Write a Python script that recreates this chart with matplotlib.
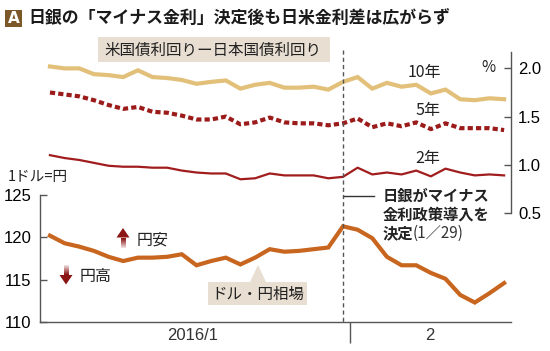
import matplotlib
matplotlib.use("Agg")
import matplotlib.pyplot as plt
from matplotlib import font_manager
from matplotlib.patches import Rectangle, Polygon
from matplotlib.lines import Line2D
import matplotlib.transforms as mtransforms

# ---------------- data ----------------
# 32 weekdays from 2016-01-01 to 2016-02-15 (index 20 = Jan 29)
day_index = list(range(32))
boj_day = 20
month_boundary = 20.5
month_labels = ["2016/1", "2"]
month_label_pos = [9.75, 25.9]

yield_10y = [2.02, 2.00, 2.00, 1.94, 1.93, 1.91, 1.98, 1.91, 1.90, 1.88, 1.84,
             1.86, 1.875, 1.79, 1.83, 1.85, 1.80, 1.80, 1.81, 1.78, 1.86,
             1.91, 1.79, 1.85, 1.81, 1.83, 1.74, 1.78, 1.68, 1.67, 1.69, 1.68]
yield_5y = [1.75, 1.73, 1.71, 1.67, 1.62, 1.58, 1.60, 1.55, 1.54, 1.51, 1.47,
            1.47, 1.50, 1.42, 1.44, 1.49, 1.44, 1.43, 1.43, 1.41, 1.43,
            1.48, 1.39, 1.43, 1.40, 1.44, 1.37, 1.43, 1.38, 1.38, 1.38, 1.36]
yield_2y = [1.10, 1.07, 1.05, 1.02, 0.99, 0.98, 0.98, 0.97, 0.97, 0.94, 0.92,
            0.91, 0.91, 0.85, 0.86, 0.91, 0.89, 0.89, 0.89, 0.86, 0.875,
            0.97, 0.90, 0.92, 0.90, 0.94, 0.88, 0.96, 0.92, 0.89, 0.90, 0.89]
usdjpy = [120.2, 119.3, 118.9, 118.4, 117.7, 117.2, 117.6, 117.6, 117.7, 118.0,
          116.7, 117.2, 117.6, 116.8, 117.6, 118.6, 118.3, 118.4, 118.6, 118.8,
          121.3, 120.9, 119.9, 117.7, 116.7, 116.7, 115.8, 115.1, 113.2, 112.3,
          113.4, 114.6]
yield_ticks = [0.5, 1.0, 1.5, 2.0]
yen_ticks = [110, 115, 120, 125]

# ---------------- style ----------------
W, H = 550, 351
CJK = ["Noto Sans CJK JP", "DejaVu Sans"]
avail = {f.name for f in font_manager.fontManager.ttflist}
NUM = "Liberation Sans Narrow" if "Liberation Sans Narrow" in avail else "Liberation Sans"

c10 = "#e2c07a"
c5 = "#9b1b1b"
c2 = "#a11d1d"
cyen = "#c8661f"
cbox = "#e8ded1"
caxis = "#555555"

fig = plt.figure(figsize=(W / 100, H / 100), dpi=100)
fig.patch.set_facecolor("white")

xlim = (-0.68, 31.47)

def fx(px):
    return px / W

def fy(py):
    return 1 - py / H

# ---------------- top axes (yield spreads) ----------------
ax_t = fig.add_axes([fx(40), fy(213), fx(511) - fx(40), fy(52) - fy(213)])
ax_t.set_facecolor("none")
ax_t.plot(day_index, yield_10y, color=c10, lw=3.0, solid_joinstyle="miter")
ax_t.plot(day_index, yield_5y, color=c5, lw=3.0, linestyle=(0, (1.25, 0.75)),
          dash_capstyle="butt")
ax_t.plot(day_index, yield_2y, color=c2, lw=1.6)
ax_t.set_xlim(*xlim)
ax_t.set_ylim(0.5, 2.17)
for s in ["left", "top", "bottom"]:
    ax_t.spines[s].set_visible(False)
ax_t.spines["right"].set_color(caxis)
ax_t.spines["right"].set_linewidth(1.0)
ax_t.yaxis.tick_right()
ax_t.set_yticks(yield_ticks)
ax_t.set_yticklabels([f"{v:.1f}" for v in yield_ticks])
ax_t.tick_params(axis="y", direction="in", length=5, width=1, color=caxis,
                 pad=5, labelsize=12)
for lab in ax_t.get_yticklabels():
    lab.set_fontfamily(NUM)
ax_t.set_xticks([])

# ---------------- bottom axes (USD/JPY) ----------------
ax_b = fig.add_axes([fx(40), fy(322), fx(511) - fx(40), fy(195) - fy(322)])
ax_b.set_facecolor("none")
ax_b.plot(day_index, usdjpy, color=cyen, lw=3.0, solid_joinstyle="miter")
ax_b.set_xlim(*xlim)
ax_b.set_ylim(110, 125)
for s in ["top", "right"]:
    ax_b.spines[s].set_visible(False)
for s in ["left", "bottom"]:
    ax_b.spines[s].set_color(caxis)
    ax_b.spines[s].set_linewidth(1.0)
ax_b.set_yticks(yen_ticks)
ax_b.tick_params(axis="y", direction="in", length=5, width=1, color=caxis,
                 pad=6, labelsize=12)
ax_b.set_xticks([month_boundary])
ax_b.set_xticklabels([""])
ax_b.tick_params(axis="x", which="major", direction="out", length=15,
                 width=1, color=caxis)
ax_b.set_xticks(month_label_pos, minor=True)
ax_b.set_xticklabels(month_labels, minor=True)
ax_b.tick_params(axis="x", which="minor", length=0, pad=4, labelsize=12,
                 labelcolor="#333333")
for lab in ax_b.get_yticklabels() + ax_b.get_xticklabels(minor=True):
    lab.set_fontfamily(NUM)

# dashed vertical line at BOJ decision spanning both panels
tr = mtransforms.blended_transform_factory(ax_b.transData, fig.transFigure)
fig.add_artist(Line2D([boj_day, boj_day], [fy(50), fy(322)], transform=tr,
                      color="#555555", lw=1.0, linestyle=(0, (3, 2.2))))
fig.add_artist(Line2D([boj_day + 0.1, boj_day + 2.15], [fy(196), fy(196)],
                      transform=tr, color="#333333", lw=1.0))

# ---------------- overlay (pixel coords) for annotations ----------------
ov = fig.add_axes([0, 0, 1, 1])
ov.set_xlim(0, W)
ov.set_ylim(H, 0)
ov.axis("off")
ov.set_zorder(5)

# title
ov.add_patch(Rectangle((5, 10), 17, 17, facecolor="#7a5828", edgecolor="none"))
ov.text(13.5, 18.8, "A", color="white", fontsize=11, fontweight="bold",
        ha="center", va="center", family=["DejaVu Sans"])
ov.text(28, 18.5, "日銀の「マイナス金利」決定後も日米金利差は広がらず",
        fontsize=12.2, fontweight="bold", ha="left", va="center", family=CJK,
        color="#1a1a1a")

# legend box
ov.add_patch(Rectangle((98, 37), 232, 25, facecolor=cbox, edgecolor="none"))
ov.text(104, 50, "米国債利回りー日本国債利回り", fontsize=11.2, ha="left",
        va="center", family=CJK, color="#222222")

# series labels
ov.text(424, 72, "10年", fontsize=11.5, ha="center", va="center", family=CJK,
        color="#222222")
ov.text(428, 111, "5年", fontsize=11.5, ha="center", va="center", family=CJK,
        color="#222222")
ov.text(428, 158, "2年", fontsize=11.5, ha="center", va="center", family=CJK,
        color="#222222")
ov.text(488, 68, "%", fontsize=11, ha="center", va="center", family=CJK,
        color="#222222")
ov.text(8, 177, "1ドル=円", fontsize=10.5, ha="left", va="center", family=CJK,
        color="#222222")

# BOJ annotation
ov.text(383, 196, "日銀がマイナス", fontsize=11, fontweight="bold", ha="left",
        va="center", family=CJK, color="#222222")
ov.text(383, 214.5, "金利政策導入を", fontsize=11, fontweight="bold", ha="left",
        va="center", family=CJK, color="#222222")
ov.text(383, 233, "決定", fontsize=11, fontweight="bold", ha="left",
        va="center", family=CJK, color="#222222")
ov.text(413, 233, "(1／29)", fontsize=11, ha="left", va="center", family=CJK,
        color="#333333")

# yen up / down arrows
dark = "#8b1414"
def shaft(x, y0, y1, fade_top):
    n = 10
    h = (y1 - y0) / n
    for k in range(n):
        a = (k + 1) / n if not fade_top else (k + 1) / n
        if fade_top:
            alpha = 0.15 + 0.85 * (k / (n - 1))
        else:
            alpha = 1.0 - 0.85 * (k / (n - 1))
        ov.add_patch(Rectangle((x - 2.5, y0 + k * h), 5, h + 0.2,
                               facecolor=dark, alpha=alpha, edgecolor="none"))

# up arrow (円安)
ov.add_patch(Polygon([[123, 228], [116.5, 237.5], [129.5, 237.5]],
                     closed=True, facecolor=dark, edgecolor="none"))
shaft(123, 237.5, 248, fade_top=False)
ov.text(137, 240, "円安", fontsize=11.5, ha="left", va="center", family=CJK,
        color="#222222")
# down arrow (円高)
shaft(66, 265, 275, fade_top=True)
ov.add_patch(Polygon([[59.5, 275], [72.5, 275], [66, 284.5]],
                     closed=True, facecolor=dark, edgecolor="none"))
ov.text(80, 276, "円高", fontsize=11.5, ha="left", va="center", family=CJK,
        color="#222222")

# USD/JPY label box with pointer
ov.add_patch(Polygon([[208, 282], [250, 282], [258, 265], [266, 282],
                      [307, 282], [307, 305], [208, 305]], closed=True,
                     facecolor=cbox, edgecolor="none"))
ov.text(257.5, 294, "ドル・円相場", fontsize=11.2, ha="center", va="center",
        family=CJK, color="#222222")

fig.savefig("out.png", dpi=100)
